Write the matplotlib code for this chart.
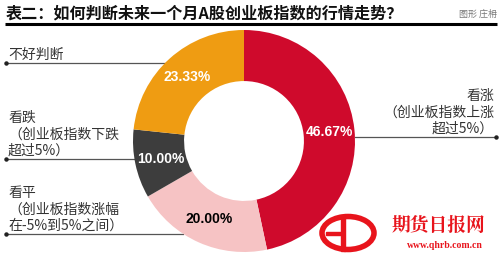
import matplotlib
matplotlib.use("Agg")
import matplotlib.pyplot as plt
from matplotlib.patches import Ellipse, Rectangle
import numpy as np

plt.rcParams['font.family'] = ['Noto Sans CJK SC', 'DejaVu Sans']

# ---- data ----
categories = ["看涨", "看平", "看跌", "不好判断"]
values = [46.67, 20.00, 10.00, 23.33]
colors = ["#cf0a2c", "#f6c3c4", "#3d3d3d", "#ef9c12"]
pct_colors = ["white", "black", "white", "white"]
label_texts = {
    "看涨": "看涨\n（创业板指数上涨\n超过5%）",
    "看平": "看平\n（创业板指数涨幅\n在-5%到5%之间）",
    "看跌": "看跌\n（创业板指数下跌\n超过5%）",
    "不好判断": "不好判断",
}
title = "表二：如何判断未来一个月A股创业板指数的行情走势？"
credit = "图形 庄枏"

W, H = 500, 262
fig = plt.figure(figsize=(W / 100, H / 100), dpi=100)
ax = fig.add_axes([0, 0, 1, 1])

cx, cy, R = 244, H - 141, 111
width = 0.46

wedges, texts, autotexts = ax.pie(
    values, colors=colors, startangle=90, counterclock=False,
    center=(cx, cy), radius=R,
    wedgeprops=dict(width=R * width, edgecolor='none'),
    autopct=lambda p: f"{p:.2f}%", pctdistance=1 - width / 2,
    textprops=dict(fontsize=10, fontweight='bold', family=['Liberation Sans', 'DejaVu Sans']),
)
for t, c in zip(autotexts, pct_colors):
    t.set_color(c)

ax.set_xlim(0, W)
ax.set_ylim(0, H)
ax.set_aspect('equal')
ax.set_axis_off()

# title
ax.text(6, H - 13, title, fontsize=11.6, fontweight='heavy', color='#111111',
        va='center', ha='left')
ax.text(497, H - 14, credit, fontsize=6.5, color='#777777', va='center', ha='right')
ax.plot([5, 497], [H - 24, H - 24], color='black', lw=2.2, solid_capstyle='butt')

# leader lines
line_col = '#555555'
def circle_x(y_img, side):
    dy = (H - y_img) - cy
    dx = np.sqrt(max(R ** 2 - dy ** 2, 0))
    return cx - dx if side == 'left' else cx + dx

left_specs = [("不好判断", 63), ("看跌", 159), ("看平", 234)]
for cat, yl in left_specs:
    xe = circle_x(yl, 'left')
    ax.plot([6, xe], [H - yl, H - yl], color=line_col, lw=0.9, zorder=0)
    ax.plot([6], [H - yl], 'o', color='#222222', ms=2.2)
    ax.text(8, H - yl + 1.5, label_texts[cat], fontsize=10, color='#333333',
            ha='left', va='bottom', linespacing=1.2)

yr = 137
xs = circle_x(yr, 'right')
ax.plot([xs, 496], [H - yr, H - yr], color=line_col, lw=0.9, zorder=0)
ax.plot([496], [H - yr], 'o', color='#222222', ms=2.2)
ax.text(494, H - yr + 1.5, label_texts["看涨"], fontsize=10, color='#333333',
        ha='right', va='bottom', linespacing=1.2, multialignment='right')

# watermark logo
red = '#e8141c'
ax.add_patch(Ellipse((348, H - 233), 52, 33, fill=False, edgecolor=red, lw=4))
ax.add_patch(Rectangle((341, H - 251), 4, 36, color=red))
ax.add_patch(Rectangle((326, H - 235), 16, 3, color=red))
ax.text(438, H - 225, "期货日报网", fontsize=13.5, fontweight='bold', color=red,
        ha='center', va='center', family=['Noto Serif CJK SC', 'Noto Sans CJK SC'])
ax.text(445, H - 246, "www.qhrb.com.cn", fontsize=7, fontweight='bold', color=red,
        ha='center', va='center', family=['Liberation Serif', 'DejaVu Serif'])

fig.savefig("out.png", dpi=100)
